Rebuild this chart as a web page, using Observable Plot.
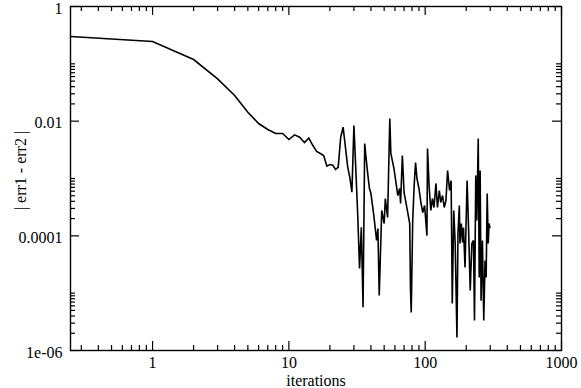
<!DOCTYPE html>
<html>
<head>
<meta charset="utf-8">
<script src="https://cdn.jsdelivr.net/npm/d3@7"></script>
<script src="https://cdn.jsdelivr.net/npm/@observablehq/plot@0.6"></script>
<style>
  html, body { margin: 0; padding: 0; background: white; }
  #chart svg text { font-family: "Liberation Serif", "Times New Roman", serif; }
</style>
</head>
<body>
<div id="chart"></div>
<script>
// Iteration numbers and |err1 - err2| values
const iterations = [0.25, 1, 2, 3, 4, 5, 6, 7, 8, 9, 10, 11, 12, 13, 14, 15, 16, 17, 18, 19, 20,
  21, 22, 23, 24, 25, 26, 27, 28, 29, 30, 31, 32, 33, 34, 35, 36, 37, 38, 39, 40,
  42, 44, 45, 46, 48, 50, 51, 53, 55, 56, 59, 63, 65, 66, 68, 70, 74, 77, 78, 79,
  81, 83, 85, 87, 90, 93, 96, 99, 103, 104, 107, 110, 113, 116, 120, 123, 127, 130,
  134, 138, 142, 146, 151, 155, 158, 162, 166, 171, 174, 178, 180, 184, 188, 191,
  196, 200, 203, 208, 214, 220, 226, 230, 235, 239, 245, 249, 253, 257, 263, 269,
  275, 280, 285, 290, 294, 298];
const errDiff = [0.30, 0.245, 0.119, 0.0548, 0.028, 0.0143, 0.0091, 0.00716, 0.0061, 0.0061, 0.00479,
  0.00578, 0.00525, 0.00425, 0.00505, 0.00376, 0.00296, 0.00273, 0.00252, 0.00164, 0.00175,
  0.0017, 0.00144, 0.00157, 0.00525, 0.00785, 0.00351, 0.0016, 0.00105, 0.000577, 0.0084,
  0.00138, 0.000226, 0.0000269, 0.000141, 0.0000057, 0.00407, 0.00206, 0.00113, 0.000669, 0.000547,
  0.000226, 0.000083, 0.000134, 0.0000091, 0.000277, 0.000164, 0.000448, 0.000209, 0.0111, 0.00273,
  0.00149, 0.000505, 0.000669, 0.000366, 0.00252, 0.00057, 0.000277, 0.000164, 0.000012, 0.0000046,
  0.000185, 0.000755, 0.0019, 0.001, 0.00067, 0.000381, 0.000255, 0.000338, 0.000101, 0.00333,
  0.000696, 0.000277, 0.000448, 0.000312, 0.00082, 0.000312, 0.000618, 0.000381,
  0.000505, 0.000312, 0.000413, 0.00138, 0.000618, 0.00092, 0.0000066, 0.000277, 0.0000735, 0.00000168,
  0.00011, 0.000338, 0.0000735, 0.000164, 0.0000765, 0.00014,
  0.000028, 0.000209, 0.00092, 0.00014, 0.0000111, 0.0000735, 0.000083, 0.00000333, 0.00113, 0.000185,
  0.00498, 0.0000188, 0.00138, 0.0000074, 0.000083, 0.00000333,
  0.000037, 0.0000188, 0.000547, 0.0000735, 0.000164, 0.00014];

// Axis ticks
const xMajorTicks = [1, 10, 100, 1000];
const xTickLabels = ["1", "10", "100", "1000"];
const xMinorTicks = [0.3, 0.4, 0.5, 0.6, 0.7, 0.8, 0.9,
  2, 3, 4, 5, 6, 7, 8, 9,
  20, 30, 40, 50, 60, 70, 80, 90,
  200, 300, 400, 500, 600, 700, 800, 900];
const yMajorTicks = [1, 0.01, 0.0001, 0.000001];
const yTickLabels = ["1", "0.01", "0.0001", "1e-06"];
const yMinorTicks = [0.02, 0.03, 0.04, 0.05, 0.06, 0.07, 0.08, 0.09, 0.1,
  0.0002, 0.0003, 0.0004, 0.0005, 0.0006, 0.0007, 0.0008, 0.0009, 0.001,
  0.000002, 0.000003, 0.000004, 0.000005, 0.000006, 0.000007, 0.000008, 0.000009, 0.00001];

const xLabel = "iterations";
const yLabel = "| err1 - err2 |";

const data = iterations.map((it, i) => ({it, err: errDiff[i]}));

const W = 581, H = 388;
const mL = 70, mR = 20, mT = 6, mB = 38;
const PW = W - mL - mR, PH = H - mT - mB;
const majorLen = 9, minorLen = 5;
const tickStroke = {stroke: "black", strokeWidth: 1.2};
const FS = 16;

const chart = Plot.plot({
  width: W,
  height: H,
  marginLeft: mL,
  marginRight: mR,
  marginTop: mT,
  marginBottom: mB,
  style: {fontFamily: "Liberation Serif", fontSize: FS + "px", background: "white", color: "black"},
  x: {type: "log", domain: [0.25, 1000]},
  y: {type: "log", domain: [0.000001, 1]},
  marks: [
    // ticks: bottom and top (inward)
    Plot.ruleX(xMajorTicks, {...tickStroke, insetTop: PH - majorLen}),
    Plot.ruleX(xMinorTicks, {...tickStroke, insetTop: PH - minorLen}),
    Plot.ruleX(xMajorTicks, {...tickStroke, insetBottom: PH - majorLen}),
    Plot.ruleX(xMinorTicks, {...tickStroke, insetBottom: PH - minorLen}),
    // ticks: left and right (inward)
    Plot.ruleY(yMajorTicks, {...tickStroke, insetRight: PW - majorLen}),
    Plot.ruleY(yMinorTicks, {...tickStroke, insetRight: PW - minorLen}),
    Plot.ruleY(yMajorTicks, {...tickStroke, insetLeft: PW - majorLen}),
    Plot.ruleY(yMinorTicks, {...tickStroke, insetLeft: PW - minorLen}),
    Plot.frame({stroke: "black", strokeWidth: 1.4}),
    Plot.line(data, {x: "it", y: "err", stroke: "black", strokeWidth: 1.6, strokeLinejoin: "miter", strokeMiterlimit: 3}),
    Plot.axisX(xMajorTicks, {anchor: "bottom", tickSize: 0, tickPadding: 6, label: null,
      tickFormat: d => xTickLabels[xMajorTicks.indexOf(d)], fontSize: FS}),
    Plot.axisY(yMajorTicks, {anchor: "left", tickSize: 0, tickPadding: 8, label: null, dy: 2,
      tickFormat: d => yTickLabels[yMajorTicks.indexOf(d)], fontSize: FS}),
    Plot.text([xLabel], {frameAnchor: "bottom", dy: 30, text: d => d, fontSize: FS, lineAnchor: "middle", textAnchor: "middle"}),
    Plot.text([yLabel], {frameAnchor: "left", dx: -50, dy: -8, rotate: -90, text: d => d, fontSize: FS, lineAnchor: "middle", textAnchor: "middle"})
  ]
});
document.getElementById("chart").appendChild(chart);
</script>
</body>
</html>
